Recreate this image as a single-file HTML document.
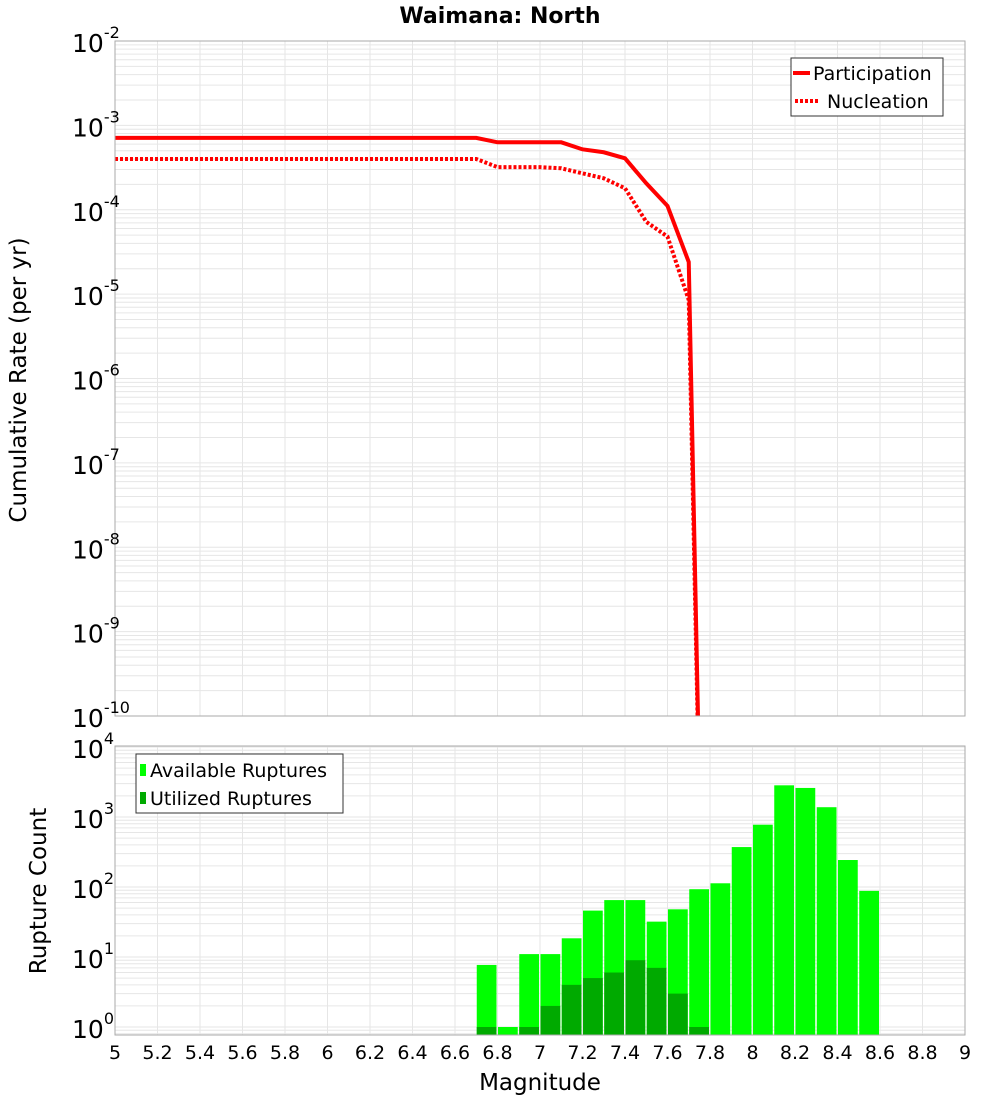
<!DOCTYPE html>
<html><head><meta charset="utf-8"><style>
html,body{margin:0;padding:0;background:#fff;}
svg{display:block;font-family:"DejaVu Sans","Liberation Sans",sans-serif;}
</style></head><body>
<svg id="chart" width="1000" height="1100" viewBox="0 0 1000 1100" xmlns="http://www.w3.org/2000/svg">
<text x="500" y="23" text-anchor="middle" font-size="22" font-weight="bold">Waimana: North</text>
<g id="topg"></g>
<g id="botg"></g>
<text transform="translate(26,380) rotate(-90)" text-anchor="middle" font-size="23">Cumulative Rate (per yr)</text>
<text transform="translate(46,891) rotate(-90)" text-anchor="middle" font-size="23">Rupture Count</text>
<text x="540" y="1090" text-anchor="middle" font-size="23">Magnitude</text>
<g id="legends">
<g>
<rect x="791" y="58" width="152" height="58" fill="#fff" stroke="#333" stroke-width="1"/>
<line x1="793" y1="73" x2="810" y2="73" stroke="#f00" stroke-width="4"/>
<text x="813" y="80" font-size="19">Participation</text>
<line x1="795" y1="101" x2="820" y2="101" stroke="#f00" stroke-width="4" stroke-dasharray="3,2"/>
<text x="827" y="108" font-size="19">Nucleation</text>
</g>
<g>
<rect x="136" y="754" width="207" height="59" fill="#fff" stroke="#333" stroke-width="1"/>
<rect x="140" y="764" width="6" height="12" fill="#00ff00"/>
<text x="150" y="777" font-size="19">Available Ruptures</text>
<rect x="140" y="792" width="6" height="12" fill="#00aa00"/>
<text x="150" y="805" font-size="19">Utilized Ruptures</text>
</g>
</g>
</svg>
<script>
const partMags=[5,6.7,6.8,7.0,7.1,7.2,7.3,7.4,7.5,7.6,7.7,7.8];
const partRates=[7.1e-4,7.1e-4,6.3e-4,6.3e-4,6.3e-4,5.2e-4,4.8e-4,4.07e-4,2.06e-4,1.11e-4,2.4e-5,1e-17];
const nuclMags=[5,6.7,6.8,7.0,7.1,7.2,7.3,7.4,7.5,7.6,7.7,7.8];
const nuclRates=[4.0e-4,4.0e-4,3.2e-4,3.2e-4,3.1e-4,2.7e-4,2.36e-4,1.8e-4,7.2e-5,4.8e-5,8.5e-6,1e-17];
const binMags=[6.75,6.85,6.95,7.05,7.15,7.25,7.35,7.45,7.55,7.65,7.75,7.85,7.95,8.05,8.15,8.25,8.35,8.45,8.55];
const availCounts=[7.7,1,11,11,18.5,46,65,65,32,48,93,113,372,776,2835,2600,1380,243,88];
const utilCounts=[1,0,1,2,4,5,6,9,7,3,1,0,0,0,0,0,0,0,0];
const xTicks=[5,5.2,5.4,5.6,5.8,6,6.2,6.4,6.6,6.8,7,7.2,7.4,7.6,7.8,8,8.2,8.4,8.6,8.8,9];
const topExps=[-10,-9,-8,-7,-6,-5,-4,-3,-2];
const botExps=[0,1,2,3,4];

const NS='http://www.w3.org/2000/svg';
const X0=115,X1=965;
const xs=m=>X0+(m-5)/4*(X1-X0);
const TY0=41,TY1=716;
const ty=v=>TY0+(-2-Math.log10(v))*(TY1-TY0)/8;
const BY0=746,BY1=1035;
const by=v=>1027-Math.log10(v)*70;
function mk(tag,attrs,parent){const e=document.createElementNS(NS,tag);for(const k in attrs)e.setAttribute(k,attrs[k]);parent.appendChild(e);return e;}
const topG=document.getElementById('topg'),botG=document.getElementById('botg');
const svgEl=document.getElementById('chart');
const defs=mk('defs',{},svgEl);
const c1=mk('clipPath',{id:'c1'},defs);mk('rect',{x:X0,y:TY0,width:X1-X0,height:TY1-TY0},c1);
const c2=mk('clipPath',{id:'c2'},defs);mk('rect',{x:X0,y:BY0,width:X1-X0,height:BY1-BY0},c2);

function grid(g,yf,e0,e1,ya,yb){
  for(let e=e0;e<=e1;e++)for(let k=1;k<10;k++){const v=k*Math.pow(10,e);const y=yf(v);if(y<ya-0.1||y>yb+0.1)continue;
    const l=mk('line',{x1:X0,x2:X1,y1:y,y2:y,stroke:'#e6e6e6','stroke-width':1},g);
    
    }
  xTicks.forEach(t=>{const l=mk('line',{x1:xs(t),x2:xs(t),y1:ya,y2:yb,stroke:'#e6e6e6','stroke-width':1},g);
    
    });
}
grid(topG,ty,-11,-2,TY0,TY1);
grid(botG,by,-1,4,BY0,BY1);

function drawLine(mags,vals,dash,name){
  const pts=mags.map((m,i)=>xs(m)+','+ty(vals[i])).join(' ');
  const p=mk('polyline',{points:pts,fill:'none',stroke:'#f00','stroke-width':4,'clip-path':'url(#c1)'},topG);
  if(dash)p.setAttribute('stroke-dasharray','3,2');
  
  
}
drawLine(partMags,partRates,false,'participation-line');
drawLine(nuclMags,nuclRates,true,'nucleation-line');

const bw=(xs(5.1)-xs(5))-1.5;
binMags.forEach((m,i)=>{
  const x=xs(m-0.05)+0.5;
  if(availCounts[i]>0){const y=by(availCounts[i]);
    const r=mk('rect',{x:x,y:y,width:bw,height:BY1-y,fill:'#00ff00','clip-path':'url(#c2)'},botG);
    
    }
  if(utilCounts[i]>0){const y=by(utilCounts[i]);
    const r=mk('rect',{x:x,y:y,width:bw,height:BY1-y,fill:'#00aa00','clip-path':'url(#c2)'},botG);
    
    }
});

mk('rect',{x:X0,y:TY0,width:X1-X0,height:TY1-TY0,fill:'none',stroke:'#aaa','stroke-width':1},topG);
mk('rect',{x:X0,y:BY0,width:X1-X0,height:BY1-BY0,fill:'none',stroke:'#aaa','stroke-width':1},botG);

function ylab(g,y,e){
  const t=mk('text',{x:72,y:y+11,'font-size':25},g);
  
  
  const a=mk('tspan',{},t);a.textContent='10';
  const b=mk('tspan',{dy:-14,'font-size':16},t);b.textContent=String(e);
}
topExps.forEach(e=>ylab(topG,ty(Math.pow(10,e)),e));
botExps.forEach(e=>ylab(botG,by(Math.pow(10,e)),e));
xTicks.forEach(t=>{const tx=mk('text',{x:xs(t),y:1059,'text-anchor':'middle','font-size':19},botG);
  tx.textContent=String(t);
  
  });
svgEl.appendChild(document.getElementById('legends'));
</script>
</body></html>
